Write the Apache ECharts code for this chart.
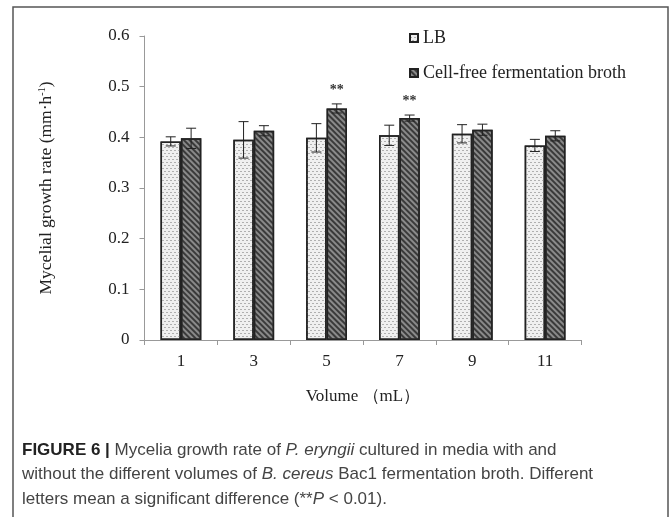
<!DOCTYPE html>
<html>
<head>
<meta charset="utf-8">
<script src="https://cdn.jsdelivr.net/npm/echarts@6/dist/echarts.min.js"></script>
<style>
  html, body { margin: 0; padding: 0; background: #fff; }
  #main { width: 672px; height: 517px; }
</style>
</head>
<body>
<div id="main"></div>
<script>
// volumes of fermentation broth (mL)
var categories = ['1', '3', '5', '7', '9', '11'];
var lbValues = [0.392, 0.395, 0.399, 0.404, 0.407, 0.384];
var cfValues = [0.398, 0.413, 0.457, 0.438, 0.415, 0.403];
var lbErrors = [0.009, 0.036, 0.028, 0.020, 0.018, 0.012];
var cfErrors = [0.020, 0.010, 0.009, 0.006, 0.011, 0.010];
var sigMarks = ['', '', '**', '**', '', ''];
var yTicks = [0, 0.1, 0.2, 0.3, 0.4, 0.5, 0.6];

var serif = '"Liberation Serif", "Times New Roman", serif';
var sans = '"Liberation Sans", Arial, sans-serif';

function errData(values, errors, sign) {
    return values.map(function (v, i) {
        return [i, v, errors[i], sign];
    });
}

function renderErr(params, api) {
    var idx = api.value(0);
    var v = api.value(1);
    var e = api.value(2);
    var sign = api.value(3);
    var mark = params.seriesIndex === 3 ? sigMarks[idx] : '';
    var bw = api.size([1, 0])[0];
    var x = api.coord([idx, v])[0] + sign * bw * 0.14;
    var top = api.coord([idx, v + e])[1];
    var bot = api.coord([idx, v - e])[1];
    var cap = 5;
    var st = { stroke: '#222', lineWidth: 1 };
    var children = [
        { type: 'line', shape: { x1: x, y1: top, x2: x, y2: bot }, style: st },
        { type: 'line', shape: { x1: x - cap, y1: top, x2: x + cap, y2: top }, style: st },
        { type: 'line', shape: { x1: x - cap, y1: bot, x2: x + cap, y2: bot }, style: st }
    ];
    if (mark) {
        children.push({
            type: 'text',
            style: {
                text: mark, x: x, y: top - 14, align: 'center', verticalAlign: 'middle',
                font: 'bold 14px ' + serif, fill: '#333'
            }
        });
    }
    return { type: 'group', children: children };
}

var myChart = echarts.init(document.getElementById('main'));
myChart.setOption({
    backgroundColor: '#fff',
    animation: false,
    grid: { left: 144.5, right: 90.5, top: 36, bottom: 177 },
    legend: {
        data: ['LB', 'Cell-free fermentation broth'],
        orient: 'vertical',
        left: 404,
        top: 24,
        itemWidth: 8,
        itemHeight: 8,
        itemGap: 17,
        icon: 'rect',
        textStyle: { fontFamily: serif, fontSize: 18, color: '#222' }
    },
    xAxis: {
        type: 'category',
        data: categories,
        name: 'Volume （mL）',
        nameLocation: 'middle',
        nameGap: 48,
        nameTextStyle: { fontFamily: serif, fontSize: 17, color: '#222' },
        axisLine: { lineStyle: { color: '#999', width: 1 } },
        axisTick: { show: true, length: 5, lineStyle: { color: '#999' } },
        axisLabel: { fontFamily: serif, fontSize: 17, color: '#222', margin: 13 }
    },
    yAxis: {
        type: 'value',
        min: 0,
        max: 0.6,
        interval: 0.1,
        name: 'Mycelial growth rate (mm·h{sup|-1})',
        nameLocation: 'middle',
        nameGap: 89,
        nameTextStyle: {
            fontFamily: serif, fontSize: 17.5, color: '#222',
            rich: { sup: { fontFamily: serif, fontSize: 10, color: '#222', verticalAlign: 'top', padding: [0, 0, 8, 0] } }
        },
        axisLine: { show: true, lineStyle: { color: '#999', width: 1 } },
        axisTick: { show: true, length: 5, lineStyle: { color: '#999' } },
        splitLine: { show: false },
        axisLabel: {
            fontFamily: serif, fontSize: 17, color: '#222', margin: 15,
            formatter: function (v) {
                var t = yTicks.filter(function (k) { return Math.abs(k - v) < 1e-9; })[0];
                return t === 0 ? '0' : t.toFixed(1);
            }
        }
    },
    series: [
        {
            name: 'LB',
            type: 'bar',
            data: lbValues,
            barWidth: '28%',
            barGap: '0%',
            itemStyle: {
                color: '#f0f0f0',
                borderColor: '#222',
                borderWidth: 1.5,
                decal: {
                    symbol: 'rect', symbolSize: 1,
                    dashArrayX: [[2, 2], [0, 2, 2, 0]],
                    dashArrayY: [1, 2],
                    color: '#b0b0b0'
                }
            }
        },
        {
            name: 'Cell-free fermentation broth',
            type: 'bar',
            data: cfValues,
            barWidth: '28%',
            barGap: '0%',
            itemStyle: {
                color: '#8a8a8a',
                borderColor: '#222',
                borderWidth: 1.5,
                decal: {
                    symbol: 'rect', symbolSize: 1,
                    dashArrayX: [1, 0],
                    dashArrayY: [1.2, 1.6],
                    rotation: Math.PI / 4,
                    color: '#3a3a3a'
                }
            }
        },
        {
            type: 'custom',
            name: 'lbErr',
            renderItem: renderErr,
            data: errData(lbValues, lbErrors, -1),
            z: 10,
            silent: true
        },
        {
            type: 'custom',
            name: 'cfErr',
            renderItem: renderErr,
            data: errData(cfValues, cfErrors, 1),
            z: 10,
            silent: true
        }
    ],
    graphic: [
        {
            type: 'rect',
            shape: { x: 13, y: 7, width: 655, height: 600 },
            style: { fill: 'none', stroke: '#555', lineWidth: 1.5 },
            silent: true
        },
        {
            type: 'text',
            left: 22,
            top: 438,
            style: {
                text: '{b|FIGURE 6 |} Mycelia growth rate of {i|P. eryngii} cultured in media with and\n' +
                      'without the different volumes of {i|B. cereus} Bac1 fermentation broth. Different\n' +
                      'letters mean a significant difference (**{i|P} < 0.01).',
                font: '17px ' + sans,
                fill: '#444',
                lineHeight: 24.5,
                rich: {
                    b: { fontFamily: sans, fontWeight: 'bold', fontSize: 17, fill: '#222', lineHeight: 24.5 },
                    i: { fontFamily: sans, fontStyle: 'italic', fontSize: 17, fill: '#444', lineHeight: 24.5 }
                }
            }
        }
    ]
});
</script>
</body>
</html>
